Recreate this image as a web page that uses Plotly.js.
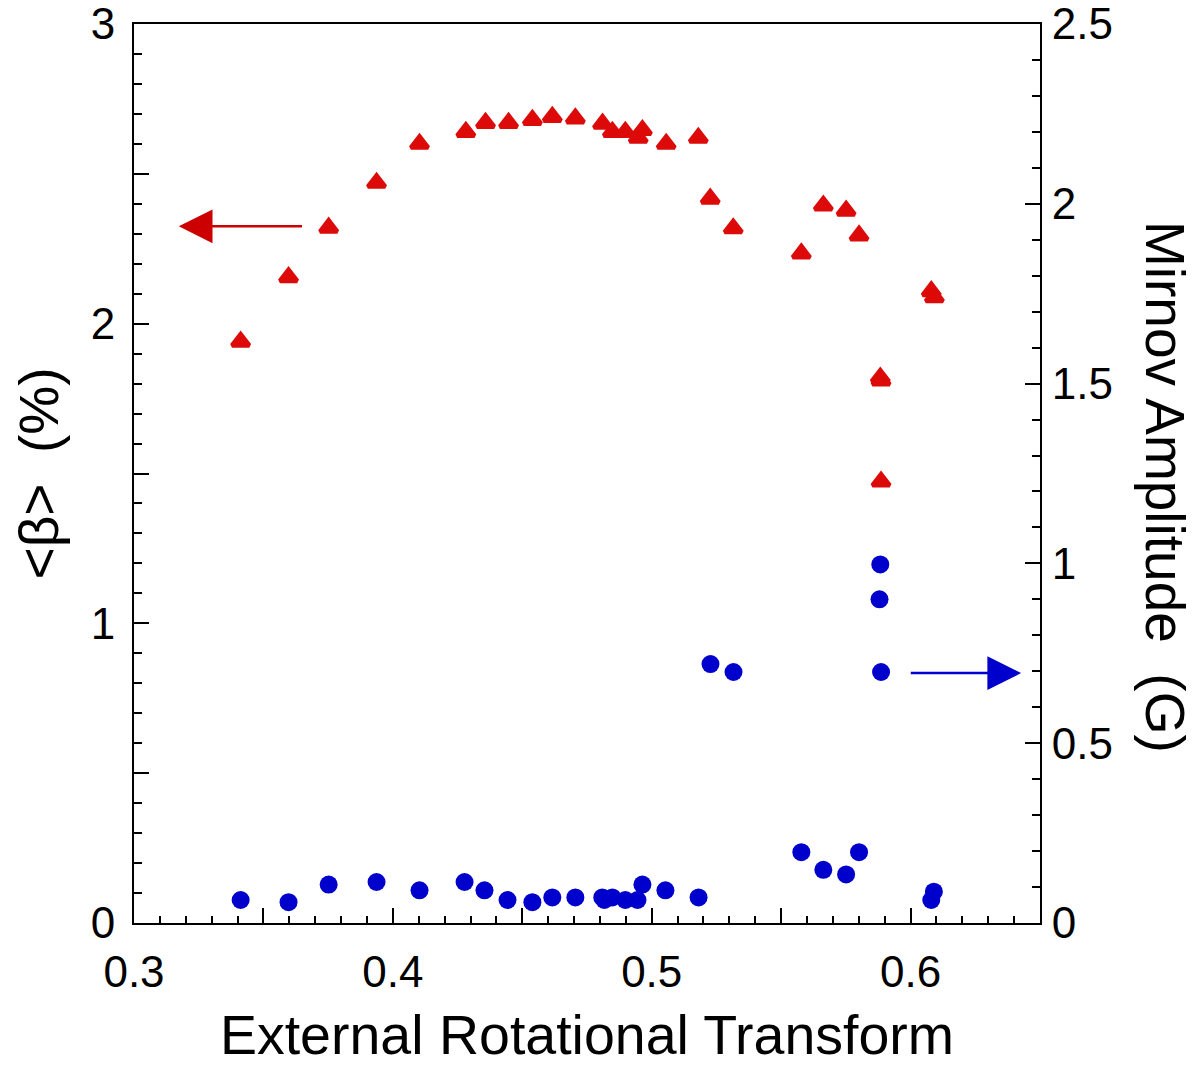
<!DOCTYPE html>
<html>
<head>
<meta charset="utf-8">
<script src="https://cdn.plot.ly/plotly-3.0.1.min.js"></script>
<style>html,body{margin:0;padding:0;background:#fff;}#chart{width:1204px;height:1066px;}</style>
</head>
<body>
<div id="chart"></div>
<script>
// External rotational transform (x) and <beta> (%) - red triangles, left axis
const xBeta = [0.3412, 0.3597, 0.3752, 0.3937, 0.4103, 0.4282, 0.4358, 0.4447, 0.4539, 0.4616,
               0.4705, 0.4810, 0.4848, 0.4898, 0.4948, 0.4964, 0.5056, 0.5180, 0.5226, 0.5315,
               0.5578, 0.5663, 0.5751, 0.5801, 0.5883, 0.5886, 0.5886, 0.6080, 0.6092];
const betaPct = [1.94, 2.155, 2.32, 2.47, 2.60, 2.64, 2.67, 2.67, 2.68, 2.69,
                 2.685, 2.667, 2.64, 2.64, 2.62, 2.646, 2.60, 2.62, 2.417, 2.318,
                 2.234, 2.394, 2.377, 2.294, 1.82, 1.81, 1.473, 2.108, 2.088];
// Mirnov amplitude (G) - blue circles, right axis
const xMirnov = [0.3412, 0.3597, 0.3752, 0.3937, 0.4103, 0.4277, 0.4354, 0.4443, 0.4539, 0.4616,
                 0.4705, 0.4809, 0.4817, 0.4848, 0.4898, 0.4945, 0.4964, 0.5053, 0.5181, 0.5227,
                 0.5316, 0.5578, 0.5663, 0.5751, 0.5801, 0.5883, 0.5880, 0.5886, 0.6080, 0.6090];
const mirnovG = [0.064, 0.058, 0.107, 0.114, 0.091, 0.114, 0.091, 0.064, 0.058, 0.071,
                 0.071, 0.071, 0.064, 0.071, 0.064, 0.064, 0.107, 0.091, 0.071, 0.720,
                 0.698, 0.197, 0.148, 0.135, 0.197, 0.997, 0.900, 0.698, 0.064, 0.087];
// tick labels
const xTickVals = [0.3, 0.35, 0.4, 0.45, 0.5, 0.55, 0.6, 0.65];
const xTickText = ['0.3', '', '0.4', '', '0.5', '', '0.6', ''];
const yTickVals = [0, 0.5, 1, 1.5, 2, 2.5, 3];
const yTickText = ['0', '', '1', '', '2', '', '3'];
const y2TickVals = [0, 0.5, 1, 1.5, 2, 2.5];
const y2TickText = ['0', '0.5', '1', '1.5', '2', '2.5'];

const FONT = '"Liberation Sans", Arial, Helvetica, sans-serif';
const RED = '#dd0a0a';
const BLUE = '#0000cc';

const traces = [
  {
    x: xBeta, y: betaPct, type: 'scatter', mode: 'markers', yaxis: 'y',
    name: '<β> (%)',
    marker: {symbol: 'triangle-up', size: 15, color: RED, line: {color: RED, width: 4.5}},
    cliponaxis: false
  },
  {
    x: xMirnov, y: mirnovG, type: 'scatter', mode: 'markers', yaxis: 'y2',
    name: 'Mirnov Amplitude (G)',
    marker: {symbol: 'circle', size: 18, color: BLUE},
    cliponaxis: false
  }
];

const axisCommon = {
  showline: true, linecolor: '#000', linewidth: 2,
  ticks: 'inside', ticklen: 15, tickwidth: 2, tickcolor: '#000',
  showgrid: false, zeroline: false,
  tickfont: {family: FONT, size: 44, color: '#000'},
  tickmode: 'array', ticklabeloverflow: 'allow'
};

const layout = {
  width: 1204, height: 1066,
  margin: {l: 134, r: 164, t: 24, b: 143},
  paper_bgcolor: '#fff', plot_bgcolor: '#fff',
  showlegend: false,
  font: {family: FONT, color: '#000'},
  xaxis: Object.assign({}, axisCommon, {
    range: [0.3, 0.65], tickvals: xTickVals, ticktext: xTickText,
    mirror: true, ticklabelstandoff: 9,
    minor: {tickmode: 'linear', tick0: 0.3, dtick: 0.01, ticks: 'inside', ticklen: 7, tickwidth: 2, tickcolor: '#000'},
    title: {text: 'External Rotational Transform', font: {family: FONT, size: 55.5, color: '#000'}, standoff: 40}
  }),
  yaxis: Object.assign({}, axisCommon, {
    range: [0, 3], tickvals: yTickVals, ticktext: yTickText,
    ticklabelstandoff: 8,
    minor: {tickmode: 'linear', tick0: 0, dtick: 0.1, ticks: 'inside', ticklen: 8, tickwidth: 2, tickcolor: '#000'},
    title: {text: '&lt;β&gt;\u00A0 (%)', font: {family: FONT, size: 55, color: '#000'}, standoff: 14}
  }),
  yaxis2: Object.assign({}, axisCommon, {
    range: [0, 2.5], tickvals: y2TickVals, ticktext: y2TickText,
    overlaying: 'y', side: 'right', anchor: 'x',
    ticklabelstandoff: 1,
    minor: {tickmode: 'linear', tick0: 0, dtick: 0.1, ticks: 'inside', ticklen: 8, tickwidth: 2, tickcolor: '#000'}
  }),
  annotations: [
    {
      xref: 'paper', yref: 'paper', x: 1.138, y: 0.485,
      text: 'Mirnov Amplitude\u00A0 (G)', textangle: 90, showarrow: false,
      xanchor: 'center', yanchor: 'middle',
      font: {family: FONT, size: 55, color: '#000'}
    },
    {
      xref: 'x', yref: 'y', x: 0.3173, y: 2.325, axref: 'x', ayref: 'y', ax: 0.3655, ay: 2.325,
      text: '', showarrow: true, arrowhead: 2, arrowwidth: 2.5, arrowsize: 2.7, arrowcolor: '#cc0000'
    },
    {
      xref: 'x', yref: 'y2', x: 0.6427, y: 0.695, axref: 'x', ayref: 'y2', ax: 0.5995, ay: 0.695,
      text: '', showarrow: true, arrowhead: 2, arrowwidth: 2.5, arrowsize: 2.7, arrowcolor: BLUE
    }
  ]
};

Plotly.newPlot('chart', traces, layout, {displayModeBar: false, staticPlot: true});
</script>
</body>
</html>
